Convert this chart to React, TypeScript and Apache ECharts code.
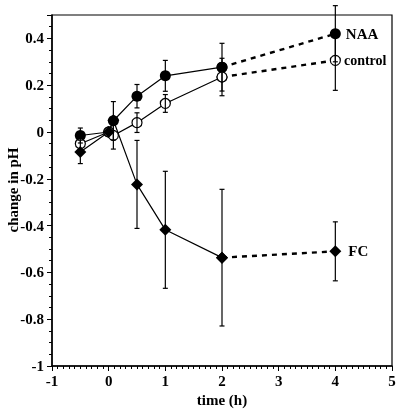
import React, { useEffect, useRef } from "react";
import * as echarts from "echarts";

const times = [-0.5, 0, 0.083, 0.5, 1, 2, 4];
const naaValues = [-0.015, 0, 0.048, 0.153, 0.24, 0.277, 0.42];
const naaErrors = [0.032, 0, 0.082, 0.05, 0.066, 0.102, 0.12];
const controlValues = [-0.05, 0, -0.015, 0.04, 0.122, 0.235, 0.306];
const controlErrors = [0, 0, 0.058, 0.042, 0.038, 0.08, 0.128];
const fcValues = [-0.085, 0, 0.05, -0.224, -0.418, -0.537, -0.51];
const fcErrors = [0.05, 0, 0, 0.188, 0.25, 0.292, 0.126];
const seriesNames = ["NAA", "control", "FC"];
const xTitle = "time (h)";
const yTitle = "change in pH";

const FONT = "Liberation Serif";

function solidPart(vals: number[]) {
  return times.slice(0, 6).map((t, i) => [t, vals[i]]);
}
function dashedPart(vals: number[]) {
  return [[times[5], vals[5]], [times[6], vals[6]]];
}
function errData(vals: number[], errs: number[]) {
  return times
    .map((t, i) => [t, vals[i] - errs[i], vals[i] + errs[i]])
    .filter((d, i) => errs[i] > 0);
}

export default function App() {
  const ref = useRef<HTMLDivElement>(null);
  useEffect(() => {
    if (!ref.current) return;
    const chart = echarts.init(ref.current, undefined, { renderer: "svg" });

    const errSeries = (vals: number[], errs: number[]) => ({
      type: "custom",
      z: 5,
      data: errData(vals, errs),
      renderItem: (params: any, api: any) => {
        const x = api.value(0);
        const lo = api.coord([x, api.value(1)]);
        const hi = api.coord([x, api.value(2)]);
        const w = 2.5;
        const style = { stroke: "#000", lineWidth: 1.2 };
        return {
          type: "group",
          children: [
            { type: "line", shape: { x1: lo[0], y1: lo[1], x2: hi[0], y2: hi[1] }, style },
            { type: "line", shape: { x1: lo[0] - w, y1: lo[1], x2: lo[0] + w, y2: lo[1] }, style },
            { type: "line", shape: { x1: hi[0] - w, y1: hi[1], x2: hi[0] + w, y2: hi[1] }, style },
          ],
        };
      },
    });

    const markerStyles: any[] = [
      { symbol: "circle", symbolSize: 11, itemStyle: { color: "#000" } },
      { symbol: "circle", symbolSize: 10, itemStyle: { color: "#fff", borderColor: "#000", borderWidth: 1.2 } },
      { symbol: "diamond", symbolSize: 12, itemStyle: { color: "#000" } },
    ];
    const allVals = [naaValues, controlValues, fcValues];
    const allErrs = [naaErrors, controlErrors, fcErrors];
    const labelSizes = [15, 14, 15];
    const labelDistances = [5, 3, 7];

    const series: any[] = [];
    allVals.forEach((vals, k) => {
      series.push({
        type: "line",
        name: seriesNames[k] + "-solid",
        data: solidPart(vals),
        ...markerStyles[k],
        z: 3,
        lineStyle: { color: "#000", width: 1.2 },
      });
      const dd = dashedPart(vals);
      series.push({
        type: "line",
        name: seriesNames[k] + "-dashed",
        data: [
          { value: dd[0] },
          {
            value: dd[1],
            label: {
              show: true,
              position: "right",
              distance: labelDistances[k],
              formatter: seriesNames[k],
              fontFamily: FONT,
              fontWeight: "bold",
              fontSize: labelSizes[k],
              color: "#000",
            },
          },
        ],
        ...markerStyles[k],
        z: 4,
        lineStyle: { color: "#000", width: 2.4, type: [5, 5] },
      });
      series.push(errSeries(vals, allErrs[k]));
    });

    const labelStyle = {
      fontFamily: FONT,
      fontWeight: "bold",
      fontSize: 15,
      color: "#000",
    };

    chart.setOption({
      animation: false,
      textStyle: { fontFamily: FONT, fontWeight: "bold" },
      grid: {
        left: 52,
        right: 8,
        top: 15,
        bottom: 44,
        show: true,
        borderColor: "#000",
        borderWidth: 1.2,
        containLabel: false,
        outerBoundsMode: "none",
      },
      graphic: [
        {
          type: "text",
          x: 13,
          y: 190,
          rotation: Math.PI / 2,
          style: {
            text: yTitle,
            fontFamily: FONT,
            fontWeight: "bold",
            fontSize: 15,
            fill: "#000",
            align: "center",
            verticalAlign: "middle",
          },
        },
      ],
      xAxis: {
        type: "value",
        min: -1,
        max: 5,
        interval: 1,
        name: xTitle,
        nameLocation: "middle",
        nameGap: 24,
        nameTextStyle: labelStyle,
        axisLine: { lineStyle: { color: "#000", width: 1.5 }, onZero: false },
        axisTick: { length: 5, lineStyle: { color: "#000", width: 1 } },
        minorTick: { show: true, splitNumber: 10, length: 3, lineStyle: { color: "#000", width: 1 } },
        splitLine: { show: false },
        axisLabel: { ...labelStyle, margin: 7 },
      },
      yAxis: {
        type: "value",
        min: -1,
        max: 0.5,
        interval: 0.2,
        axisLine: { lineStyle: { color: "#000", width: 1.5 }, onZero: false },
        axisTick: { length: 5, lineStyle: { color: "#000", width: 1 } },
        minorTick: { show: true, splitNumber: 4, length: 3, lineStyle: { color: "#000", width: 1 } },
        splitLine: { show: false },
        axisLabel: {
          ...labelStyle,
          margin: 8,
          formatter: (v: number) => {
            if (Math.abs(v - 0.5) < 1e-6) return "";
            const r = Math.round(v * 10) / 10;
            return String(r);
          },
        },
      },
      series,
    });
    return () => chart.dispose();
  }, []);
  return (
    <div
      ref={ref}
      style={{ position: "fixed", left: 0, top: 0, width: 400, height: 410 }}
    />
  );
}
